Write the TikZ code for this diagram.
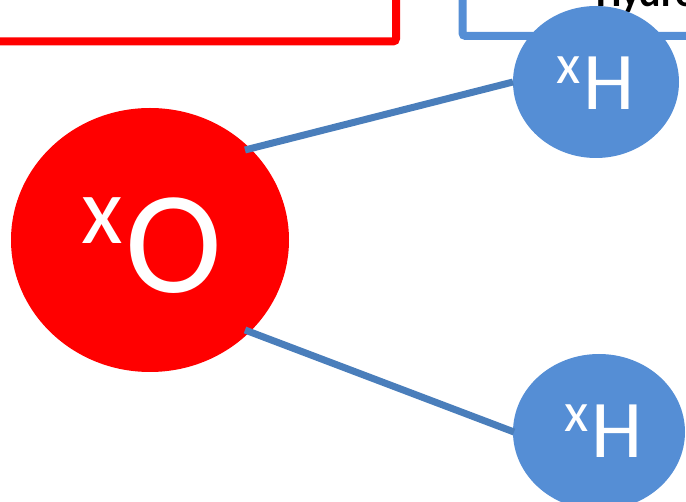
\documentclass[tikz,border=0pt]{standalone}
\usepackage{fontspec}
\setmainfont{Carlito}
\definecolor{hblue}{HTML}{558ED5}
\definecolor{lblue}{HTML}{4A7EBB}
\definecolor{ored}{HTML}{FF0000}
\begin{document}
\begin{tikzpicture}[x=1pt,y=-1pt,
  bond/.style={draw=lblue, line width=7pt},
  frame/.style={line width=8pt, rounded corners=3pt},
  lbl/.style={inner sep=0pt, text=white, anchor=base west}]
\useasboundingbox (0,0) rectangle (686,502);
\draw[frame, draw=ored] (-60,-120) rectangle (396,41.5);
\draw[frame, draw=hblue] (462.5,-120) rectangle (760,36);
\node[anchor=base west, inner sep=0pt, font=\bfseries\fontsize{40}{40}\selectfont] (title) at (596,7) {Hydrogen};
\fill[ored] (150,240) ellipse [x radius=139, y radius=132];
\fill[hblue] (596,82) ellipse [x radius=83, y radius=76];
\fill[hblue] (599,432) ellipse [x radius=86, y radius=78];
\coordinate (O) at (150,240);
\coordinate (H1) at (596,82);
\coordinate (H2) at (599,432);
\draw[bond] (245,150) -- (513,82);
\draw[bond] (245,330) -- (514,432);
\node[lbl, font=\fontsize{146}{146}\selectfont] (Otext) at (125,293) {O};
\node[lbl, font=\fontsize{96}{96}\selectfont] (Ox) at (81,244) {x};
\node[lbl, font=\fontsize{82}{82}\selectfont] (H1t) at (583,110) {H};
\node[lbl, font=\fontsize{56}{56}\selectfont] (H1x) at (556,84) {x};
\node[lbl, font=\fontsize{82}{82}\selectfont] (H2t) at (591,458) {H};
\node[lbl, font=\fontsize{56}{56}\selectfont] (H2x) at (564,432) {x};
\end{tikzpicture}
\end{document}
